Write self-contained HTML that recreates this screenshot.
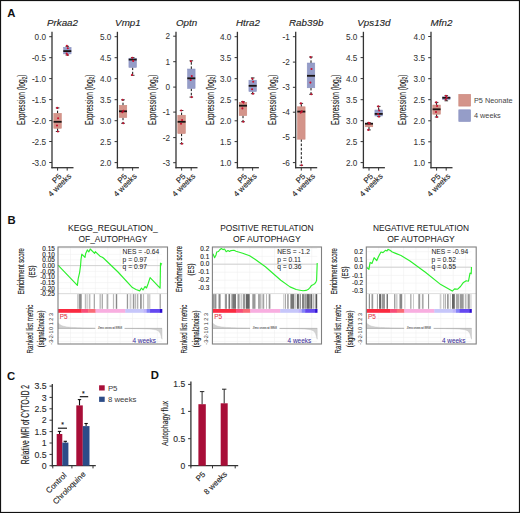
<!DOCTYPE html>
<html><head><meta charset="utf-8"><style>
html,body{margin:0;padding:0;background:#fff;}
body{width:520px;height:513px;overflow:hidden;}
svg{display:block;}
text{font-family:"Liberation Sans", sans-serif;}
</style></head><body>
<svg width="520" height="513" viewBox="0 0 520 513">
<rect x="0" y="0" width="520" height="513" fill="#fff"/>
<text x="62.5" y="26.1" font-size="9.8" fill="#222" stroke="#222" stroke-width="0.12" text-anchor="middle" font-style="italic">Prkaa2</text>
<line x1="52" y1="31.8" x2="52" y2="168.3" stroke="#333" stroke-width="1.3"/>
<line x1="51.4" y1="167.7" x2="73.5" y2="167.7" stroke="#333" stroke-width="1.3"/>
<line x1="49.2" y1="36.7" x2="52" y2="36.7" stroke="#333" stroke-width="1"/>
<text x="46.0" y="39.7" font-size="8.2" fill="#333" stroke="#333" stroke-width="0.04" text-anchor="end">0.0</text>
<line x1="49.2" y1="57.7" x2="52" y2="57.7" stroke="#333" stroke-width="1"/>
<text x="46.0" y="60.7" font-size="8.2" fill="#333" stroke="#333" stroke-width="0.04" text-anchor="end">-0.5</text>
<line x1="49.2" y1="78.6" x2="52" y2="78.6" stroke="#333" stroke-width="1"/>
<text x="46.0" y="81.6" font-size="8.2" fill="#333" stroke="#333" stroke-width="0.04" text-anchor="end">-1.0</text>
<line x1="49.2" y1="99.6" x2="52" y2="99.6" stroke="#333" stroke-width="1"/>
<text x="46.0" y="102.6" font-size="8.2" fill="#333" stroke="#333" stroke-width="0.04" text-anchor="end">-1.5</text>
<line x1="49.2" y1="120.6" x2="52" y2="120.6" stroke="#333" stroke-width="1"/>
<text x="46.0" y="123.6" font-size="8.2" fill="#333" stroke="#333" stroke-width="0.04" text-anchor="end">-2.0</text>
<line x1="49.2" y1="141.5" x2="52" y2="141.5" stroke="#333" stroke-width="1"/>
<text x="46.0" y="144.5" font-size="8.2" fill="#333" stroke="#333" stroke-width="0.04" text-anchor="end">-2.5</text>
<line x1="49.2" y1="162.5" x2="52" y2="162.5" stroke="#333" stroke-width="1"/>
<text x="46.0" y="165.5" font-size="8.2" fill="#333" stroke="#333" stroke-width="0.04" text-anchor="end">-3.0</text>
<line x1="57.6" y1="167.7" x2="57.6" y2="170.6" stroke="#333" stroke-width="1"/>
<line x1="67.2" y1="167.7" x2="67.2" y2="170.6" stroke="#333" stroke-width="1"/>
<text x="62.1" y="177.0" font-size="7.9" fill="#222" stroke="#222" stroke-width="0.12" text-anchor="end" transform="rotate(-45 62.1 177.0)">P5</text>
<text x="71.8" y="176.8" font-size="7.9" fill="#222" stroke="#222" stroke-width="0.12" text-anchor="end" transform="rotate(-45 71.8 176.8)">4 weeks</text>
<text transform="translate(24.8 125) rotate(-90)" font-size="10.4" fill="#222" stroke="#222" stroke-width="0.12" textLength="50.5" lengthAdjust="spacingAndGlyphs">Expression (log<tspan font-size="7.2" dy="1.7">2</tspan><tspan dy="-1.7">)</tspan></text>
<line x1="57.6" y1="113.3" x2="57.6" y2="107.9" stroke="#111" stroke-width="1.0" stroke-dasharray="2.6 1.7"/>
<line x1="57.6" y1="128.3" x2="57.6" y2="131.5" stroke="#111" stroke-width="1.0" stroke-dasharray="2.6 1.7"/>
<line x1="55.800000000000004" y1="107.9" x2="59.4" y2="107.9" stroke="#222" stroke-width="0.9"/>
<line x1="55.800000000000004" y1="131.5" x2="59.4" y2="131.5" stroke="#222" stroke-width="0.9"/>
<rect x="53.800000000000004" y="113.3" width="7.6" height="15.000000000000014" fill="#d4948a" stroke="#c98478" stroke-width="0.5"/>
<line x1="53.6" y1="121.8" x2="61.60000000000001" y2="121.8" stroke="#1a1414" stroke-width="1.8"/>
<circle cx="57.2" cy="107.9" r="1.05" fill="#c8102e"/>
<circle cx="58.1" cy="118.2" r="1.05" fill="#c8102e"/>
<circle cx="57.0" cy="125.5" r="1.05" fill="#c8102e"/>
<circle cx="57.9" cy="131.5" r="1.05" fill="#c8102e"/>
<line x1="67.3" y1="47.3" x2="67.3" y2="46.3" stroke="#111" stroke-width="1.0" stroke-dasharray="2.6 1.7"/>
<line x1="67.3" y1="53.9" x2="67.3" y2="55.0" stroke="#111" stroke-width="1.0" stroke-dasharray="2.6 1.7"/>
<line x1="65.5" y1="46.3" x2="69.1" y2="46.3" stroke="#222" stroke-width="0.9"/>
<line x1="65.5" y1="55.0" x2="69.1" y2="55.0" stroke="#222" stroke-width="0.9"/>
<rect x="63.5" y="47.3" width="7.6" height="6.600000000000001" fill="#959dc8" stroke="#8890c0" stroke-width="0.5"/>
<line x1="63.3" y1="51.1" x2="71.3" y2="51.1" stroke="#1a1414" stroke-width="1.8"/>
<circle cx="66.9" cy="45.8" r="1.05" fill="#c8102e"/>
<circle cx="67.8" cy="48.2" r="1.05" fill="#c8102e"/>
<circle cx="66.7" cy="53.6" r="1.05" fill="#c8102e"/>
<circle cx="67.6" cy="55.0" r="1.05" fill="#c8102e"/>
<text x="127.9" y="26.1" font-size="9.8" fill="#222" stroke="#222" stroke-width="0.12" text-anchor="middle" font-style="italic">Vmp1</text>
<line x1="117.4" y1="31.8" x2="117.4" y2="168.3" stroke="#333" stroke-width="1.3"/>
<line x1="116.80000000000001" y1="167.7" x2="138.9" y2="167.7" stroke="#333" stroke-width="1.3"/>
<line x1="114.60000000000001" y1="36.7" x2="117.4" y2="36.7" stroke="#333" stroke-width="1"/>
<text x="111.4" y="39.7" font-size="8.2" fill="#333" stroke="#333" stroke-width="0.04" text-anchor="end">5.0</text>
<line x1="114.60000000000001" y1="57.7" x2="117.4" y2="57.7" stroke="#333" stroke-width="1"/>
<text x="111.4" y="60.7" font-size="8.2" fill="#333" stroke="#333" stroke-width="0.04" text-anchor="end">4.5</text>
<line x1="114.60000000000001" y1="78.7" x2="117.4" y2="78.7" stroke="#333" stroke-width="1"/>
<text x="111.4" y="81.7" font-size="8.2" fill="#333" stroke="#333" stroke-width="0.04" text-anchor="end">4.0</text>
<line x1="114.60000000000001" y1="99.7" x2="117.4" y2="99.7" stroke="#333" stroke-width="1"/>
<text x="111.4" y="102.7" font-size="8.2" fill="#333" stroke="#333" stroke-width="0.04" text-anchor="end">3.5</text>
<line x1="114.60000000000001" y1="120.7" x2="117.4" y2="120.7" stroke="#333" stroke-width="1"/>
<text x="111.4" y="123.7" font-size="8.2" fill="#333" stroke="#333" stroke-width="0.04" text-anchor="end">3.0</text>
<line x1="114.60000000000001" y1="141.6" x2="117.4" y2="141.6" stroke="#333" stroke-width="1"/>
<text x="111.4" y="144.6" font-size="8.2" fill="#333" stroke="#333" stroke-width="0.04" text-anchor="end">2.5</text>
<line x1="114.60000000000001" y1="162.6" x2="117.4" y2="162.6" stroke="#333" stroke-width="1"/>
<text x="111.4" y="165.6" font-size="8.2" fill="#333" stroke="#333" stroke-width="0.04" text-anchor="end">2.0</text>
<line x1="123.0" y1="167.7" x2="123.0" y2="170.6" stroke="#333" stroke-width="1"/>
<line x1="132.6" y1="167.7" x2="132.6" y2="170.6" stroke="#333" stroke-width="1"/>
<text x="127.5" y="177.0" font-size="7.9" fill="#222" stroke="#222" stroke-width="0.12" text-anchor="end" transform="rotate(-45 127.5 177.0)">P5</text>
<text x="137.20000000000002" y="176.8" font-size="7.9" fill="#222" stroke="#222" stroke-width="0.12" text-anchor="end" transform="rotate(-45 137.20000000000002 176.8)">4 weeks</text>
<text transform="translate(92.5 125) rotate(-90)" font-size="10.4" fill="#222" stroke="#222" stroke-width="0.12" textLength="50.5" lengthAdjust="spacingAndGlyphs">Expression (log<tspan font-size="7.2" dy="1.7">2</tspan><tspan dy="-1.7">)</tspan></text>
<line x1="123.0" y1="105.3" x2="123.0" y2="99.8" stroke="#111" stroke-width="1.0" stroke-dasharray="2.6 1.7"/>
<line x1="123.0" y1="117.6" x2="123.0" y2="123.3" stroke="#111" stroke-width="1.0" stroke-dasharray="2.6 1.7"/>
<line x1="121.2" y1="99.8" x2="124.8" y2="99.8" stroke="#222" stroke-width="0.9"/>
<line x1="121.2" y1="123.3" x2="124.8" y2="123.3" stroke="#222" stroke-width="0.9"/>
<rect x="119.2" y="105.3" width="7.6" height="12.299999999999997" fill="#d4948a" stroke="#c98478" stroke-width="0.5"/>
<line x1="119.0" y1="111.3" x2="127.0" y2="111.3" stroke="#1a1414" stroke-width="1.8"/>
<circle cx="122.6" cy="99.8" r="1.05" fill="#c8102e"/>
<circle cx="123.5" cy="110.8" r="1.05" fill="#c8102e"/>
<circle cx="122.4" cy="112.2" r="1.05" fill="#c8102e"/>
<circle cx="123.3" cy="123.3" r="1.05" fill="#c8102e"/>
<line x1="132.70000000000002" y1="58.2" x2="132.70000000000002" y2="57.6" stroke="#111" stroke-width="1.0" stroke-dasharray="2.6 1.7"/>
<line x1="132.70000000000002" y1="67.5" x2="132.70000000000002" y2="75.3" stroke="#111" stroke-width="1.0" stroke-dasharray="2.6 1.7"/>
<line x1="130.9" y1="57.6" x2="134.50000000000003" y2="57.6" stroke="#222" stroke-width="0.9"/>
<line x1="130.9" y1="75.3" x2="134.50000000000003" y2="75.3" stroke="#222" stroke-width="0.9"/>
<rect x="128.9" y="58.2" width="7.6" height="9.299999999999997" fill="#959dc8" stroke="#8890c0" stroke-width="0.5"/>
<line x1="128.70000000000002" y1="59.6" x2="136.7" y2="59.6" stroke="#1a1414" stroke-width="1.8"/>
<circle cx="132.3" cy="57.7" r="1.05" fill="#c8102e"/>
<circle cx="133.2" cy="60.9" r="1.05" fill="#c8102e"/>
<circle cx="132.1" cy="74.9" r="1.05" fill="#c8102e"/>
<text x="186.5" y="26.1" font-size="9.8" fill="#222" stroke="#222" stroke-width="0.12" text-anchor="middle" font-style="italic">Optn</text>
<line x1="176.0" y1="31.8" x2="176.0" y2="168.3" stroke="#333" stroke-width="1.3"/>
<line x1="175.4" y1="167.7" x2="197.5" y2="167.7" stroke="#333" stroke-width="1.3"/>
<line x1="173.2" y1="36.2" x2="176.0" y2="36.2" stroke="#333" stroke-width="1"/>
<text x="170.0" y="39.2" font-size="8.2" fill="#333" stroke="#333" stroke-width="0.04" text-anchor="end">2</text>
<line x1="173.2" y1="61.7" x2="176.0" y2="61.7" stroke="#333" stroke-width="1"/>
<text x="170.0" y="64.7" font-size="8.2" fill="#333" stroke="#333" stroke-width="0.04" text-anchor="end">1</text>
<line x1="173.2" y1="87.1" x2="176.0" y2="87.1" stroke="#333" stroke-width="1"/>
<text x="170.0" y="90.1" font-size="8.2" fill="#333" stroke="#333" stroke-width="0.04" text-anchor="end">0</text>
<line x1="173.2" y1="112.1" x2="176.0" y2="112.1" stroke="#333" stroke-width="1"/>
<text x="170.0" y="115.1" font-size="8.2" fill="#333" stroke="#333" stroke-width="0.04" text-anchor="end">-1</text>
<line x1="173.2" y1="137.6" x2="176.0" y2="137.6" stroke="#333" stroke-width="1"/>
<text x="170.0" y="140.6" font-size="8.2" fill="#333" stroke="#333" stroke-width="0.04" text-anchor="end">-2</text>
<line x1="173.2" y1="162.7" x2="176.0" y2="162.7" stroke="#333" stroke-width="1"/>
<text x="170.0" y="165.7" font-size="8.2" fill="#333" stroke="#333" stroke-width="0.04" text-anchor="end">-3</text>
<line x1="181.6" y1="167.7" x2="181.6" y2="170.6" stroke="#333" stroke-width="1"/>
<line x1="191.2" y1="167.7" x2="191.2" y2="170.6" stroke="#333" stroke-width="1"/>
<text x="186.1" y="177.0" font-size="7.9" fill="#222" stroke="#222" stroke-width="0.12" text-anchor="end" transform="rotate(-45 186.1 177.0)">P5</text>
<text x="195.8" y="176.8" font-size="7.9" fill="#222" stroke="#222" stroke-width="0.12" text-anchor="end" transform="rotate(-45 195.8 176.8)">4 weeks</text>
<text transform="translate(156.29999999999998 125) rotate(-90)" font-size="10.4" fill="#222" stroke="#222" stroke-width="0.12" textLength="50.5" lengthAdjust="spacingAndGlyphs">Expression (log<tspan font-size="7.2" dy="1.7">2</tspan><tspan dy="-1.7">)</tspan></text>
<line x1="181.6" y1="115.2" x2="181.6" y2="110.5" stroke="#111" stroke-width="1.0" stroke-dasharray="2.6 1.7"/>
<line x1="181.6" y1="133.6" x2="181.6" y2="143.7" stroke="#111" stroke-width="1.0" stroke-dasharray="2.6 1.7"/>
<line x1="179.79999999999998" y1="110.5" x2="183.4" y2="110.5" stroke="#222" stroke-width="0.9"/>
<line x1="179.79999999999998" y1="143.7" x2="183.4" y2="143.7" stroke="#222" stroke-width="0.9"/>
<rect x="177.79999999999998" y="115.2" width="7.6" height="18.39999999999999" fill="#d4948a" stroke="#c98478" stroke-width="0.5"/>
<line x1="177.6" y1="121.8" x2="185.59999999999997" y2="121.8" stroke="#1a1414" stroke-width="1.8"/>
<circle cx="181.2" cy="110.5" r="1.05" fill="#c8102e"/>
<circle cx="182.1" cy="120.1" r="1.05" fill="#c8102e"/>
<circle cx="181.0" cy="123.8" r="1.05" fill="#c8102e"/>
<circle cx="181.9" cy="143.7" r="1.05" fill="#c8102e"/>
<line x1="191.3" y1="69.0" x2="191.3" y2="60.8" stroke="#111" stroke-width="1.0" stroke-dasharray="2.6 1.7"/>
<line x1="191.3" y1="88.5" x2="191.3" y2="97.1" stroke="#111" stroke-width="1.0" stroke-dasharray="2.6 1.7"/>
<line x1="189.5" y1="60.8" x2="193.10000000000002" y2="60.8" stroke="#222" stroke-width="0.9"/>
<line x1="189.5" y1="97.1" x2="193.10000000000002" y2="97.1" stroke="#222" stroke-width="0.9"/>
<rect x="187.5" y="69.0" width="7.6" height="19.5" fill="#959dc8" stroke="#8890c0" stroke-width="0.5"/>
<line x1="187.3" y1="78.3" x2="195.29999999999998" y2="78.3" stroke="#1a1414" stroke-width="1.8"/>
<circle cx="190.9" cy="61.3" r="1.05" fill="#c8102e"/>
<circle cx="191.8" cy="76.1" r="1.05" fill="#c8102e"/>
<circle cx="190.7" cy="80.0" r="1.05" fill="#c8102e"/>
<circle cx="191.6" cy="97.1" r="1.05" fill="#c8102e"/>
<text x="247.9" y="26.1" font-size="9.8" fill="#222" stroke="#222" stroke-width="0.12" text-anchor="middle" font-style="italic">Htra2</text>
<line x1="237.4" y1="31.8" x2="237.4" y2="168.3" stroke="#333" stroke-width="1.3"/>
<line x1="236.8" y1="167.7" x2="258.9" y2="167.7" stroke="#333" stroke-width="1.3"/>
<line x1="234.6" y1="36.7" x2="237.4" y2="36.7" stroke="#333" stroke-width="1"/>
<text x="231.4" y="39.7" font-size="8.2" fill="#333" stroke="#333" stroke-width="0.04" text-anchor="end">4.0</text>
<line x1="234.6" y1="57.6" x2="237.4" y2="57.6" stroke="#333" stroke-width="1"/>
<text x="231.4" y="60.6" font-size="8.2" fill="#333" stroke="#333" stroke-width="0.04" text-anchor="end">3.5</text>
<line x1="234.6" y1="78.7" x2="237.4" y2="78.7" stroke="#333" stroke-width="1"/>
<text x="231.4" y="81.7" font-size="8.2" fill="#333" stroke="#333" stroke-width="0.04" text-anchor="end">3.0</text>
<line x1="234.6" y1="99.8" x2="237.4" y2="99.8" stroke="#333" stroke-width="1"/>
<text x="231.4" y="102.8" font-size="8.2" fill="#333" stroke="#333" stroke-width="0.04" text-anchor="end">2.5</text>
<line x1="234.6" y1="120.8" x2="237.4" y2="120.8" stroke="#333" stroke-width="1"/>
<text x="231.4" y="123.8" font-size="8.2" fill="#333" stroke="#333" stroke-width="0.04" text-anchor="end">2.0</text>
<line x1="234.6" y1="141.6" x2="237.4" y2="141.6" stroke="#333" stroke-width="1"/>
<text x="231.4" y="144.6" font-size="8.2" fill="#333" stroke="#333" stroke-width="0.04" text-anchor="end">1.5</text>
<line x1="234.6" y1="162.6" x2="237.4" y2="162.6" stroke="#333" stroke-width="1"/>
<text x="231.4" y="165.6" font-size="8.2" fill="#333" stroke="#333" stroke-width="0.04" text-anchor="end">1.0</text>
<line x1="243.0" y1="167.7" x2="243.0" y2="170.6" stroke="#333" stroke-width="1"/>
<line x1="252.6" y1="167.7" x2="252.6" y2="170.6" stroke="#333" stroke-width="1"/>
<text x="247.5" y="177.0" font-size="7.9" fill="#222" stroke="#222" stroke-width="0.12" text-anchor="end" transform="rotate(-45 247.5 177.0)">P5</text>
<text x="257.2" y="176.8" font-size="7.9" fill="#222" stroke="#222" stroke-width="0.12" text-anchor="end" transform="rotate(-45 257.2 176.8)">4 weeks</text>
<text transform="translate(213.5 125) rotate(-90)" font-size="10.4" fill="#222" stroke="#222" stroke-width="0.12" textLength="50.5" lengthAdjust="spacingAndGlyphs">Expression (log<tspan font-size="7.2" dy="1.7">2</tspan><tspan dy="-1.7">)</tspan></text>
<line x1="243.0" y1="102.3" x2="243.0" y2="101.6" stroke="#111" stroke-width="1.0" stroke-dasharray="2.6 1.7"/>
<line x1="243.0" y1="115.6" x2="243.0" y2="121.7" stroke="#111" stroke-width="1.0" stroke-dasharray="2.6 1.7"/>
<line x1="241.2" y1="101.6" x2="244.8" y2="101.6" stroke="#222" stroke-width="0.9"/>
<line x1="241.2" y1="121.7" x2="244.8" y2="121.7" stroke="#222" stroke-width="0.9"/>
<rect x="239.2" y="102.3" width="7.6" height="13.299999999999997" fill="#d4948a" stroke="#c98478" stroke-width="0.5"/>
<line x1="239.0" y1="105.7" x2="246.99999999999997" y2="105.7" stroke="#1a1414" stroke-width="1.8"/>
<circle cx="242.6" cy="101.8" r="1.05" fill="#c8102e"/>
<circle cx="243.5" cy="102.6" r="1.05" fill="#c8102e"/>
<circle cx="242.4" cy="108.4" r="1.05" fill="#c8102e"/>
<circle cx="243.3" cy="121.7" r="1.05" fill="#c8102e"/>
<line x1="252.70000000000002" y1="80.2" x2="252.70000000000002" y2="77.9" stroke="#111" stroke-width="1.0" stroke-dasharray="2.6 1.7"/>
<line x1="252.70000000000002" y1="91.6" x2="252.70000000000002" y2="93.7" stroke="#111" stroke-width="1.0" stroke-dasharray="2.6 1.7"/>
<line x1="250.9" y1="77.9" x2="254.50000000000003" y2="77.9" stroke="#222" stroke-width="0.9"/>
<line x1="250.9" y1="93.7" x2="254.50000000000003" y2="93.7" stroke="#222" stroke-width="0.9"/>
<rect x="248.9" y="80.2" width="7.6" height="11.399999999999991" fill="#959dc8" stroke="#8890c0" stroke-width="0.5"/>
<line x1="248.70000000000002" y1="85.8" x2="256.7" y2="85.8" stroke="#1a1414" stroke-width="1.8"/>
<circle cx="252.3" cy="78.8" r="1.05" fill="#c8102e"/>
<circle cx="253.2" cy="81.8" r="1.05" fill="#c8102e"/>
<circle cx="252.1" cy="89.3" r="1.05" fill="#c8102e"/>
<circle cx="253.0" cy="93.7" r="1.05" fill="#c8102e"/>
<text x="306.2" y="26.1" font-size="9.8" fill="#222" stroke="#222" stroke-width="0.12" text-anchor="middle" font-style="italic">Rab39b</text>
<line x1="295.7" y1="31.8" x2="295.7" y2="168.3" stroke="#333" stroke-width="1.3"/>
<line x1="295.09999999999997" y1="167.7" x2="317.2" y2="167.7" stroke="#333" stroke-width="1.3"/>
<line x1="292.9" y1="36.7" x2="295.7" y2="36.7" stroke="#333" stroke-width="1"/>
<text x="289.7" y="39.7" font-size="8.2" fill="#333" stroke="#333" stroke-width="0.04" text-anchor="end">-1</text>
<line x1="292.9" y1="62.1" x2="295.7" y2="62.1" stroke="#333" stroke-width="1"/>
<text x="289.7" y="65.1" font-size="8.2" fill="#333" stroke="#333" stroke-width="0.04" text-anchor="end">-2</text>
<line x1="292.9" y1="87.3" x2="295.7" y2="87.3" stroke="#333" stroke-width="1"/>
<text x="289.7" y="90.3" font-size="8.2" fill="#333" stroke="#333" stroke-width="0.04" text-anchor="end">-3</text>
<line x1="292.9" y1="112.2" x2="295.7" y2="112.2" stroke="#333" stroke-width="1"/>
<text x="289.7" y="115.2" font-size="8.2" fill="#333" stroke="#333" stroke-width="0.04" text-anchor="end">-4</text>
<line x1="292.9" y1="137.4" x2="295.7" y2="137.4" stroke="#333" stroke-width="1"/>
<text x="289.7" y="140.4" font-size="8.2" fill="#333" stroke="#333" stroke-width="0.04" text-anchor="end">-5</text>
<line x1="292.9" y1="162.6" x2="295.7" y2="162.6" stroke="#333" stroke-width="1"/>
<text x="289.7" y="165.6" font-size="8.2" fill="#333" stroke="#333" stroke-width="0.04" text-anchor="end">-6</text>
<line x1="301.3" y1="167.7" x2="301.3" y2="170.6" stroke="#333" stroke-width="1"/>
<line x1="310.9" y1="167.7" x2="310.9" y2="170.6" stroke="#333" stroke-width="1"/>
<text x="305.8" y="177.0" font-size="7.9" fill="#222" stroke="#222" stroke-width="0.12" text-anchor="end" transform="rotate(-45 305.8 177.0)">P5</text>
<text x="315.5" y="176.8" font-size="7.9" fill="#222" stroke="#222" stroke-width="0.12" text-anchor="end" transform="rotate(-45 315.5 176.8)">4 weeks</text>
<text transform="translate(275.8 125) rotate(-90)" font-size="10.4" fill="#222" stroke="#222" stroke-width="0.12" textLength="50.5" lengthAdjust="spacingAndGlyphs">Expression (log<tspan font-size="7.2" dy="1.7">2</tspan><tspan dy="-1.7">)</tspan></text>
<line x1="301.3" y1="106.8" x2="301.3" y2="103.4" stroke="#111" stroke-width="1.0" stroke-dasharray="2.6 1.7"/>
<line x1="301.3" y1="139.2" x2="301.3" y2="165.3" stroke="#111" stroke-width="1.0" stroke-dasharray="2.6 1.7"/>
<line x1="299.5" y1="103.4" x2="303.1" y2="103.4" stroke="#222" stroke-width="0.9"/>
<line x1="299.5" y1="165.3" x2="303.1" y2="165.3" stroke="#222" stroke-width="0.9"/>
<rect x="297.5" y="106.8" width="7.6" height="32.39999999999999" fill="#d4948a" stroke="#c98478" stroke-width="0.5"/>
<line x1="297.3" y1="111.6" x2="305.3" y2="111.6" stroke="#1a1414" stroke-width="1.8"/>
<circle cx="300.9" cy="103.4" r="1.05" fill="#c8102e"/>
<circle cx="301.8" cy="111.4" r="1.05" fill="#c8102e"/>
<circle cx="300.7" cy="112.6" r="1.05" fill="#c8102e"/>
<circle cx="301.6" cy="165.3" r="1.05" fill="#c8102e"/>
<line x1="311.0" y1="63.0" x2="311.0" y2="57.0" stroke="#111" stroke-width="1.0" stroke-dasharray="2.6 1.7"/>
<line x1="311.0" y1="87.8" x2="311.0" y2="94.3" stroke="#111" stroke-width="1.0" stroke-dasharray="2.6 1.7"/>
<line x1="309.2" y1="57.0" x2="312.8" y2="57.0" stroke="#222" stroke-width="0.9"/>
<line x1="309.2" y1="94.3" x2="312.8" y2="94.3" stroke="#222" stroke-width="0.9"/>
<rect x="307.2" y="63.0" width="7.6" height="24.799999999999997" fill="#959dc8" stroke="#8890c0" stroke-width="0.5"/>
<line x1="307.0" y1="75.8" x2="315.0" y2="75.8" stroke="#1a1414" stroke-width="1.8"/>
<circle cx="310.6" cy="57.0" r="1.05" fill="#c8102e"/>
<circle cx="311.5" cy="69.0" r="1.05" fill="#c8102e"/>
<circle cx="310.4" cy="82.6" r="1.05" fill="#c8102e"/>
<circle cx="311.3" cy="94.3" r="1.05" fill="#c8102e"/>
<text x="373.9" y="26.1" font-size="9.8" fill="#222" stroke="#222" stroke-width="0.12" text-anchor="middle" font-style="italic">Vps13d</text>
<line x1="363.4" y1="31.8" x2="363.4" y2="168.3" stroke="#333" stroke-width="1.3"/>
<line x1="362.79999999999995" y1="167.7" x2="384.9" y2="167.7" stroke="#333" stroke-width="1.3"/>
<line x1="360.59999999999997" y1="36.7" x2="363.4" y2="36.7" stroke="#333" stroke-width="1"/>
<text x="357.4" y="39.7" font-size="8.2" fill="#333" stroke="#333" stroke-width="0.04" text-anchor="end">5.0</text>
<line x1="360.59999999999997" y1="57.6" x2="363.4" y2="57.6" stroke="#333" stroke-width="1"/>
<text x="357.4" y="60.6" font-size="8.2" fill="#333" stroke="#333" stroke-width="0.04" text-anchor="end">4.5</text>
<line x1="360.59999999999997" y1="78.6" x2="363.4" y2="78.6" stroke="#333" stroke-width="1"/>
<text x="357.4" y="81.6" font-size="8.2" fill="#333" stroke="#333" stroke-width="0.04" text-anchor="end">4.0</text>
<line x1="360.59999999999997" y1="99.7" x2="363.4" y2="99.7" stroke="#333" stroke-width="1"/>
<text x="357.4" y="102.7" font-size="8.2" fill="#333" stroke="#333" stroke-width="0.04" text-anchor="end">3.5</text>
<line x1="360.59999999999997" y1="120.7" x2="363.4" y2="120.7" stroke="#333" stroke-width="1"/>
<text x="357.4" y="123.7" font-size="8.2" fill="#333" stroke="#333" stroke-width="0.04" text-anchor="end">3.0</text>
<line x1="360.59999999999997" y1="141.6" x2="363.4" y2="141.6" stroke="#333" stroke-width="1"/>
<text x="357.4" y="144.6" font-size="8.2" fill="#333" stroke="#333" stroke-width="0.04" text-anchor="end">2.5</text>
<line x1="360.59999999999997" y1="162.6" x2="363.4" y2="162.6" stroke="#333" stroke-width="1"/>
<text x="357.4" y="165.6" font-size="8.2" fill="#333" stroke="#333" stroke-width="0.04" text-anchor="end">2.0</text>
<line x1="369.0" y1="167.7" x2="369.0" y2="170.6" stroke="#333" stroke-width="1"/>
<line x1="378.59999999999997" y1="167.7" x2="378.59999999999997" y2="170.6" stroke="#333" stroke-width="1"/>
<text x="373.5" y="177.0" font-size="7.9" fill="#222" stroke="#222" stroke-width="0.12" text-anchor="end" transform="rotate(-45 373.5 177.0)">P5</text>
<text x="383.2" y="176.8" font-size="7.9" fill="#222" stroke="#222" stroke-width="0.12" text-anchor="end" transform="rotate(-45 383.2 176.8)">4 weeks</text>
<text transform="translate(339.40000000000003 125) rotate(-90)" font-size="10.4" fill="#222" stroke="#222" stroke-width="0.12" textLength="50.5" lengthAdjust="spacingAndGlyphs">Expression (log<tspan font-size="7.2" dy="1.7">2</tspan><tspan dy="-1.7">)</tspan></text>
<line x1="369.0" y1="123.3" x2="369.0" y2="122.7" stroke="#111" stroke-width="1.0" stroke-dasharray="2.6 1.7"/>
<line x1="369.0" y1="126.8" x2="369.0" y2="129.9" stroke="#111" stroke-width="1.0" stroke-dasharray="2.6 1.7"/>
<line x1="367.2" y1="122.7" x2="370.8" y2="122.7" stroke="#222" stroke-width="0.9"/>
<line x1="367.2" y1="129.9" x2="370.8" y2="129.9" stroke="#222" stroke-width="0.9"/>
<rect x="365.2" y="123.3" width="7.6" height="3.5" fill="#d4948a" stroke="#c98478" stroke-width="0.5"/>
<line x1="365.0" y1="123.7" x2="373.0" y2="123.7" stroke="#1a1414" stroke-width="1.8"/>
<circle cx="368.6" cy="122.8" r="1.05" fill="#c8102e"/>
<circle cx="369.5" cy="123.6" r="1.05" fill="#c8102e"/>
<circle cx="368.4" cy="129.9" r="1.05" fill="#c8102e"/>
<line x1="378.7" y1="110.0" x2="378.7" y2="106.4" stroke="#111" stroke-width="1.0" stroke-dasharray="2.6 1.7"/>
<line x1="378.7" y1="116.0" x2="378.7" y2="116.6" stroke="#111" stroke-width="1.0" stroke-dasharray="2.6 1.7"/>
<line x1="376.9" y1="106.4" x2="380.5" y2="106.4" stroke="#222" stroke-width="0.9"/>
<line x1="376.9" y1="116.6" x2="380.5" y2="116.6" stroke="#222" stroke-width="0.9"/>
<rect x="374.9" y="110.0" width="7.6" height="6.0" fill="#959dc8" stroke="#8890c0" stroke-width="0.5"/>
<line x1="374.7" y1="113.9" x2="382.7" y2="113.9" stroke="#1a1414" stroke-width="1.8"/>
<circle cx="378.3" cy="106.4" r="1.05" fill="#c8102e"/>
<circle cx="379.2" cy="110.5" r="1.05" fill="#c8102e"/>
<circle cx="378.1" cy="114.0" r="1.05" fill="#c8102e"/>
<circle cx="379.0" cy="116.6" r="1.05" fill="#c8102e"/>
<text x="441.5" y="26.1" font-size="9.8" fill="#222" stroke="#222" stroke-width="0.12" text-anchor="middle" font-style="italic">Mfn2</text>
<line x1="431.0" y1="31.8" x2="431.0" y2="168.3" stroke="#333" stroke-width="1.3"/>
<line x1="430.4" y1="167.7" x2="452.5" y2="167.7" stroke="#333" stroke-width="1.3"/>
<line x1="428.2" y1="36.5" x2="431.0" y2="36.5" stroke="#333" stroke-width="1"/>
<text x="425.0" y="39.5" font-size="8.2" fill="#333" stroke="#333" stroke-width="0.04" text-anchor="end">4.0</text>
<line x1="428.2" y1="57.7" x2="431.0" y2="57.7" stroke="#333" stroke-width="1"/>
<text x="425.0" y="60.7" font-size="8.2" fill="#333" stroke="#333" stroke-width="0.04" text-anchor="end">3.5</text>
<line x1="428.2" y1="78.7" x2="431.0" y2="78.7" stroke="#333" stroke-width="1"/>
<text x="425.0" y="81.7" font-size="8.2" fill="#333" stroke="#333" stroke-width="0.04" text-anchor="end">3.0</text>
<line x1="428.2" y1="99.7" x2="431.0" y2="99.7" stroke="#333" stroke-width="1"/>
<text x="425.0" y="102.7" font-size="8.2" fill="#333" stroke="#333" stroke-width="0.04" text-anchor="end">2.5</text>
<line x1="428.2" y1="120.8" x2="431.0" y2="120.8" stroke="#333" stroke-width="1"/>
<text x="425.0" y="123.8" font-size="8.2" fill="#333" stroke="#333" stroke-width="0.04" text-anchor="end">2.0</text>
<line x1="428.2" y1="141.8" x2="431.0" y2="141.8" stroke="#333" stroke-width="1"/>
<text x="425.0" y="144.8" font-size="8.2" fill="#333" stroke="#333" stroke-width="0.04" text-anchor="end">1.5</text>
<line x1="428.2" y1="162.7" x2="431.0" y2="162.7" stroke="#333" stroke-width="1"/>
<text x="425.0" y="165.7" font-size="8.2" fill="#333" stroke="#333" stroke-width="0.04" text-anchor="end">1.0</text>
<line x1="436.6" y1="167.7" x2="436.6" y2="170.6" stroke="#333" stroke-width="1"/>
<line x1="446.2" y1="167.7" x2="446.2" y2="170.6" stroke="#333" stroke-width="1"/>
<text x="441.1" y="177.0" font-size="7.9" fill="#222" stroke="#222" stroke-width="0.12" text-anchor="end" transform="rotate(-45 441.1 177.0)">P5</text>
<text x="450.8" y="176.8" font-size="7.9" fill="#222" stroke="#222" stroke-width="0.12" text-anchor="end" transform="rotate(-45 450.8 176.8)">4 weeks</text>
<text transform="translate(405.6 125) rotate(-90)" font-size="10.4" fill="#222" stroke="#222" stroke-width="0.12" textLength="50.5" lengthAdjust="spacingAndGlyphs">Expression (log<tspan font-size="7.2" dy="1.7">2</tspan><tspan dy="-1.7">)</tspan></text>
<line x1="436.6" y1="105.0" x2="436.6" y2="102.4" stroke="#111" stroke-width="1.0" stroke-dasharray="2.6 1.7"/>
<line x1="436.6" y1="114.2" x2="436.6" y2="117.0" stroke="#111" stroke-width="1.0" stroke-dasharray="2.6 1.7"/>
<line x1="434.8" y1="102.4" x2="438.40000000000003" y2="102.4" stroke="#222" stroke-width="0.9"/>
<line x1="434.8" y1="117.0" x2="438.40000000000003" y2="117.0" stroke="#222" stroke-width="0.9"/>
<rect x="432.8" y="105.0" width="7.6" height="9.200000000000003" fill="#d4948a" stroke="#c98478" stroke-width="0.5"/>
<line x1="432.6" y1="109.3" x2="440.6" y2="109.3" stroke="#1a1414" stroke-width="1.8"/>
<circle cx="436.2" cy="102.4" r="1.05" fill="#c8102e"/>
<circle cx="437.1" cy="106.0" r="1.05" fill="#c8102e"/>
<circle cx="436.0" cy="112.0" r="1.05" fill="#c8102e"/>
<circle cx="436.9" cy="117.0" r="1.05" fill="#c8102e"/>
<line x1="446.3" y1="96.9" x2="446.3" y2="95.7" stroke="#111" stroke-width="1.0" stroke-dasharray="2.6 1.7"/>
<line x1="446.3" y1="99.6" x2="446.3" y2="100.8" stroke="#111" stroke-width="1.0" stroke-dasharray="2.6 1.7"/>
<line x1="444.5" y1="95.7" x2="448.1" y2="95.7" stroke="#222" stroke-width="0.9"/>
<line x1="444.5" y1="100.8" x2="448.1" y2="100.8" stroke="#222" stroke-width="0.9"/>
<rect x="442.5" y="96.9" width="7.6" height="2.6999999999999886" fill="#959dc8" stroke="#8890c0" stroke-width="0.5"/>
<line x1="442.3" y1="97.8" x2="450.3" y2="97.8" stroke="#1a1414" stroke-width="1.8"/>
<circle cx="445.9" cy="95.7" r="1.05" fill="#c8102e"/>
<circle cx="446.8" cy="97.5" r="1.05" fill="#c8102e"/>
<circle cx="445.7" cy="99.5" r="1.05" fill="#c8102e"/>
<rect x="458.8" y="94.4" width="11.8" height="11.7" fill="#d4948a" stroke="#c98478" stroke-width="0.6"/>
<rect x="458.8" y="109.8" width="11.8" height="11.7" fill="#959dc8" stroke="#8890c0" stroke-width="0.6"/>
<text x="474" y="102.9" font-size="7.3" fill="#444">P5 Neonate</text>
<text x="474" y="118.2" font-size="7.3" fill="#444">4 weeks</text>
<text x="7.3" y="17.4" font-size="11.3" fill="#111" font-weight="bold">A</text>
<text x="7.4" y="224.3" font-size="11.3" fill="#111" font-weight="bold">B</text>
<text x="7.0" y="379.5" font-size="11.3" fill="#111" font-weight="bold">C</text>
<text x="150.8" y="378.7" font-size="11.3" fill="#111" font-weight="bold">D</text>
<text x="112.9" y="231.4" font-size="9.8" fill="#222" stroke="#222" stroke-width="0.04" text-anchor="middle" textLength="89.7" lengthAdjust="spacingAndGlyphs">KEGG_REGULATION_</text>
<text x="112.9" y="241.7" font-size="9.8" fill="#222" stroke="#222" stroke-width="0.04" text-anchor="middle" textLength="68.7" lengthAdjust="spacingAndGlyphs">OF_AUTOPHAGY</text>
<rect x="58.0" y="247.0" width="109.5" height="97.0" fill="#fff"/>
<line x1="70.5" y1="247.0" x2="70.5" y2="293.6" stroke="#f0f0f0" stroke-width="0.6"/>
<line x1="70.5" y1="312.8" x2="70.5" y2="344.0" stroke="#f0f0f0" stroke-width="0.6"/>
<line x1="82.9" y1="247.0" x2="82.9" y2="293.6" stroke="#f0f0f0" stroke-width="0.6"/>
<line x1="82.9" y1="312.8" x2="82.9" y2="344.0" stroke="#f0f0f0" stroke-width="0.6"/>
<line x1="95.30000000000001" y1="247.0" x2="95.30000000000001" y2="293.6" stroke="#f0f0f0" stroke-width="0.6"/>
<line x1="95.30000000000001" y1="312.8" x2="95.30000000000001" y2="344.0" stroke="#f0f0f0" stroke-width="0.6"/>
<line x1="107.70000000000002" y1="247.0" x2="107.70000000000002" y2="293.6" stroke="#f0f0f0" stroke-width="0.6"/>
<line x1="107.70000000000002" y1="312.8" x2="107.70000000000002" y2="344.0" stroke="#f0f0f0" stroke-width="0.6"/>
<line x1="120.10000000000002" y1="247.0" x2="120.10000000000002" y2="293.6" stroke="#f0f0f0" stroke-width="0.6"/>
<line x1="120.10000000000002" y1="312.8" x2="120.10000000000002" y2="344.0" stroke="#f0f0f0" stroke-width="0.6"/>
<line x1="132.50000000000003" y1="247.0" x2="132.50000000000003" y2="293.6" stroke="#f0f0f0" stroke-width="0.6"/>
<line x1="132.50000000000003" y1="312.8" x2="132.50000000000003" y2="344.0" stroke="#f0f0f0" stroke-width="0.6"/>
<line x1="144.90000000000003" y1="247.0" x2="144.90000000000003" y2="293.6" stroke="#f0f0f0" stroke-width="0.6"/>
<line x1="144.90000000000003" y1="312.8" x2="144.90000000000003" y2="344.0" stroke="#f0f0f0" stroke-width="0.6"/>
<line x1="157.30000000000004" y1="247.0" x2="157.30000000000004" y2="293.6" stroke="#f0f0f0" stroke-width="0.6"/>
<line x1="157.30000000000004" y1="312.8" x2="157.30000000000004" y2="344.0" stroke="#f0f0f0" stroke-width="0.6"/>
<line x1="58.0" y1="248.6" x2="162.0" y2="248.6" stroke="#f0f0f0" stroke-width="0.6"/>
<line x1="58.0" y1="254.3" x2="162.0" y2="254.3" stroke="#f0f0f0" stroke-width="0.6"/>
<line x1="58.0" y1="259.9" x2="162.0" y2="259.9" stroke="#f0f0f0" stroke-width="0.6"/>
<line x1="58.0" y1="265.6" x2="162.0" y2="265.6" stroke="#f0f0f0" stroke-width="0.6"/>
<line x1="58.0" y1="271.3" x2="162.0" y2="271.3" stroke="#f0f0f0" stroke-width="0.6"/>
<line x1="58.0" y1="276.9" x2="162.0" y2="276.9" stroke="#f0f0f0" stroke-width="0.6"/>
<line x1="58.0" y1="282.6" x2="162.0" y2="282.6" stroke="#f0f0f0" stroke-width="0.6"/>
<line x1="58.0" y1="288.3" x2="162.0" y2="288.3" stroke="#f0f0f0" stroke-width="0.6"/>
<line x1="58.0" y1="293.9" x2="162.0" y2="293.9" stroke="#f0f0f0" stroke-width="0.6"/>
<line x1="58.0" y1="318.6" x2="162.0" y2="318.6" stroke="#f0f0f0" stroke-width="0.6"/>
<line x1="58.0" y1="333.0" x2="162.0" y2="333.0" stroke="#f0f0f0" stroke-width="0.6"/>
<line x1="58.0" y1="337.4" x2="162.0" y2="337.4" stroke="#f0f0f0" stroke-width="0.6"/>
<line x1="58.0" y1="341.4" x2="162.0" y2="341.4" stroke="#f0f0f0" stroke-width="0.6"/>
<line x1="58.0" y1="265.6" x2="162.0" y2="265.6" stroke="#c8c8c8" stroke-width="0.8"/>
<line x1="58.0" y1="293.6" x2="167.5" y2="293.6" stroke="#d0d0d0" stroke-width="0.7"/>
<rect x="77.0" y="294.1" width="1.5999999999999943" height="14.699999999999989" fill="#ccc"/>
<rect x="78.8" y="294.1" width="3.0" height="14.699999999999989" fill="#999"/>
<rect x="79.6" y="294.1" width="1.2000000000000028" height="14.699999999999989" fill="#888"/>
<rect x="84.8" y="294.1" width="1.4000000000000057" height="14.699999999999989" fill="#bbb"/>
<rect x="86.6" y="294.1" width="1.2000000000000028" height="14.699999999999989" fill="#ccc"/>
<rect x="88.8" y="294.1" width="1.6000000000000085" height="14.699999999999989" fill="#bbb"/>
<rect x="93.7" y="294.1" width="1.2999999999999972" height="14.699999999999989" fill="#aaa"/>
<rect x="99.6" y="294.1" width="1.1000000000000085" height="14.699999999999989" fill="#aaa"/>
<rect x="101.7" y="294.1" width="1.0999999999999943" height="14.699999999999989" fill="#999"/>
<rect x="106.6" y="294.1" width="1.1000000000000085" height="14.699999999999989" fill="#aaa"/>
<rect x="107.2" y="294.1" width="1.0999999999999943" height="14.699999999999989" fill="#aaa"/>
<rect x="112.9" y="294.1" width="1.1999999999999886" height="14.699999999999989" fill="#bbb"/>
<rect x="115.8" y="294.1" width="1.4000000000000057" height="14.699999999999989" fill="#888"/>
<rect x="126.8" y="294.1" width="1.2999999999999972" height="14.699999999999989" fill="#999"/>
<rect x="129.6" y="294.1" width="1.8000000000000114" height="14.699999999999989" fill="#ccc"/>
<rect x="132.8" y="294.1" width="1.5" height="14.699999999999989" fill="#999"/>
<rect x="134.8" y="294.1" width="1.3999999999999773" height="14.699999999999989" fill="#bbb"/>
<rect x="137.1" y="294.1" width="1.200000000000017" height="14.699999999999989" fill="#aaa"/>
<rect x="140.0" y="294.1" width="1.8000000000000114" height="14.699999999999989" fill="#999"/>
<rect x="142.9" y="294.1" width="1.1999999999999886" height="14.699999999999989" fill="#bbb"/>
<rect x="147.0" y="294.1" width="3.4000000000000057" height="14.699999999999989" fill="#ccc"/>
<rect x="159.6" y="294.1" width="1.200000000000017" height="14.699999999999989" fill="#999"/>
<rect x="58.0" y="309.0" width="23.804000000000002" height="3.8000000000000114" fill="#fa2a40"/>
<rect x="81.504" y="309.0" width="6.955999999999997" height="3.8000000000000114" fill="#f84c78"/>
<rect x="88.16" y="309.0" width="7.684" height="3.8000000000000114" fill="#fa6a76"/>
<rect x="95.544" y="309.0" width="30.044000000000004" height="3.8000000000000114" fill="#f8aee0"/>
<rect x="125.288" y="309.0" width="18.291999999999994" height="3.8000000000000114" fill="#c6c6fa"/>
<rect x="143.28" y="309.0" width="3.732000000000003" height="3.8000000000000114" fill="#beb4fa"/>
<rect x="146.712" y="309.0" width="3.628000000000003" height="3.8000000000000114" fill="#8482f8"/>
<rect x="150.04000000000002" y="309.0" width="10.179999999999998" height="3.8000000000000114" fill="#6448f0"/>
<rect x="159.92000000000002" y="309.0" width="2.3800000000000017" height="3.8000000000000114" fill="#2c0cd0"/>
<path d="M58.0,328.4 L58.00,322.70 L59.73,324.45 L61.47,325.50 L63.20,326.16 L64.93,326.59 L66.67,326.89 L68.40,327.11 L70.13,327.27 L71.87,327.41 L73.60,327.52 L75.33,327.61 L77.07,327.69 L78.80,327.77 L80.53,327.83 L82.27,327.89 L84.00,327.94 L85.73,327.99 L87.47,328.03 L89.20,328.07 L90.93,328.10 L92.67,328.13 L94.40,328.16 L96.13,328.19 L97.87,328.21 L99.60,328.23 L101.33,328.26 L103.07,328.27 L104.80,328.29 L106.53,328.31 L108.27,328.32 L110.00,328.34 L111.73,328.41 L113.47,328.42 L115.20,328.43 L116.93,328.44 L118.67,328.45 L120.40,328.47 L122.13,328.48 L123.87,328.49 L125.60,328.50 L127.33,328.52 L129.07,328.53 L130.80,328.55 L132.53,328.57 L134.27,328.59 L136.00,328.62 L137.73,328.65 L139.47,328.68 L141.20,328.72 L142.93,328.77 L144.67,328.83 L146.40,328.90 L148.13,328.99 L149.87,329.10 L151.60,329.24 L153.33,329.43 L155.07,329.69 L156.80,330.13 L158.53,331.00 L160.27,333.15 L162.00,339.23 L162.0,328.4 Z" fill="#d2d2d2" stroke="#bdbdbd" stroke-width="0.4"/>
<line x1="58.0" y1="328.4" x2="162.0" y2="328.4" stroke="#9a9a9a" stroke-width="0.5"/>
<rect x="95.44" y="326.79999999999995" width="29.120000000000005" height="3.2" fill="#fff"/>
<text x="110.0" y="329.4" font-size="2.9" fill="#666" stroke="#666" stroke-width="0.12" text-anchor="middle">Zero cross at 8958</text>
<text x="59.8" y="318.8" font-size="6.4" fill="#e0303c" stroke="#e0303c" stroke-width="0.05">P5</text>
<text x="156.0" y="342.8" font-size="6.45" fill="#3a2f9a" stroke="#3a2f9a" stroke-width="0.05" text-anchor="end">4 weeks</text>
<path d="M58.00,265.20 L77.40,285.40 L78.20,278.60 L79.60,272.60 L80.60,265.00 L81.00,259.60 L81.80,254.20 L85.00,257.40 L85.60,253.80 L87.30,249.90 L88.80,252.00 L90.20,249.00 L94.60,253.40 L95.30,251.60 L100.00,256.20 L102.30,257.20 L103.40,258.00 L118.00,272.00 L132.40,287.60 L136.00,289.50 L139.70,290.90 L141.50,288.00 L143.00,290.00 L145.00,286.50 L146.50,288.00 L148.00,284.00 L150.10,277.60 L160.10,288.20 L160.50,263.20 L162.00,264.20" fill="none" stroke="#2cf02c" stroke-width="1.15" stroke-linejoin="round"/>
<text x="122.6" y="253.8" font-size="6.7" fill="#222" stroke="#222" stroke-width="0.03">NES = -0.64</text>
<text x="122.6" y="261.6" font-size="6.7" fill="#222" stroke="#222" stroke-width="0.03">p = 0.97</text>
<text x="122.6" y="269.4" font-size="6.7" fill="#222" stroke="#222" stroke-width="0.03">q = 0.97</text>
<rect x="58.0" y="247.0" width="109.5" height="97.0" fill="none" stroke="#808080" stroke-width="1.1"/>
<text x="54.8" y="250.79999999999998" font-size="6.4" fill="#222" stroke="#222" stroke-width="0.12" text-anchor="end">0.15</text>
<text x="54.8" y="256.5" font-size="6.4" fill="#222" stroke="#222" stroke-width="0.12" text-anchor="end">0.10</text>
<text x="54.8" y="262.09999999999997" font-size="6.4" fill="#222" stroke="#222" stroke-width="0.12" text-anchor="end">0.05</text>
<text x="54.8" y="267.8" font-size="6.4" fill="#222" stroke="#222" stroke-width="0.12" text-anchor="end">0.00</text>
<text x="54.8" y="273.5" font-size="6.4" fill="#222" stroke="#222" stroke-width="0.12" text-anchor="end">-0.05</text>
<text x="54.8" y="279.09999999999997" font-size="6.4" fill="#222" stroke="#222" stroke-width="0.12" text-anchor="end">-0.10</text>
<text x="54.8" y="284.8" font-size="6.4" fill="#222" stroke="#222" stroke-width="0.12" text-anchor="end">-0.15</text>
<text x="54.8" y="290.5" font-size="6.4" fill="#222" stroke="#222" stroke-width="0.12" text-anchor="end">-0.20</text>
<text x="54.8" y="296.09999999999997" font-size="6.4" fill="#222" stroke="#222" stroke-width="0.12" text-anchor="end">-0.25</text>
<text transform="translate(53.4 314.54) rotate(-90)" font-size="5.4" fill="#333" text-anchor="middle">3</text>
<text transform="translate(53.4 319.16) rotate(-90)" font-size="5.4" fill="#333" text-anchor="middle">2</text>
<text transform="translate(53.4 323.78) rotate(-90)" font-size="5.4" fill="#333" text-anchor="middle">1</text>
<text transform="translate(53.4 328.40) rotate(-90)" font-size="5.4" fill="#333" text-anchor="middle">0</text>
<text transform="translate(53.4 333.02) rotate(-90)" font-size="5.4" fill="#333" text-anchor="middle">-1</text>
<text transform="translate(53.4 337.64) rotate(-90)" font-size="5.4" fill="#333" text-anchor="middle">-2</text>
<text transform="translate(53.4 342.26) rotate(-90)" font-size="5.4" fill="#333" text-anchor="middle">-3</text>
<text transform="translate(23.9 294.5) rotate(-90)" font-size="8.6" fill="#222" stroke="#222" stroke-width="0.15" textLength="46.3" lengthAdjust="spacingAndGlyphs">Enrichment score</text>
<text transform="translate(35.2 277.6) rotate(-90)" font-size="9.2" fill="#222" stroke="#222" stroke-width="0.15" textLength="12" lengthAdjust="spacingAndGlyphs">(ES)</text>
<text transform="translate(33.0 353.4) rotate(-90)" font-size="8.6" fill="#222" stroke="#222" stroke-width="0.12" textLength="48.8" lengthAdjust="spacingAndGlyphs">Ranked list metric</text>
<text transform="translate(44.2 347.2) rotate(-90)" font-size="8.6" fill="#222" stroke="#222" stroke-width="0.12" textLength="36.8" lengthAdjust="spacingAndGlyphs">(signal2noise)</text>
<text x="266.9" y="231.4" font-size="9.8" fill="#222" stroke="#222" stroke-width="0.04" text-anchor="middle" textLength="93.5" lengthAdjust="spacingAndGlyphs">POSITIVE RETULATION</text>
<text x="266.9" y="241.7" font-size="9.8" fill="#222" stroke="#222" stroke-width="0.04" text-anchor="middle" textLength="67.7" lengthAdjust="spacingAndGlyphs">OF AUTOPHAGY</text>
<rect x="212.4" y="247.0" width="109.1" height="97.0" fill="#fff"/>
<line x1="224.9" y1="247.0" x2="224.9" y2="293.6" stroke="#f0f0f0" stroke-width="0.6"/>
<line x1="224.9" y1="312.8" x2="224.9" y2="344.0" stroke="#f0f0f0" stroke-width="0.6"/>
<line x1="237.3" y1="247.0" x2="237.3" y2="293.6" stroke="#f0f0f0" stroke-width="0.6"/>
<line x1="237.3" y1="312.8" x2="237.3" y2="344.0" stroke="#f0f0f0" stroke-width="0.6"/>
<line x1="249.70000000000002" y1="247.0" x2="249.70000000000002" y2="293.6" stroke="#f0f0f0" stroke-width="0.6"/>
<line x1="249.70000000000002" y1="312.8" x2="249.70000000000002" y2="344.0" stroke="#f0f0f0" stroke-width="0.6"/>
<line x1="262.1" y1="247.0" x2="262.1" y2="293.6" stroke="#f0f0f0" stroke-width="0.6"/>
<line x1="262.1" y1="312.8" x2="262.1" y2="344.0" stroke="#f0f0f0" stroke-width="0.6"/>
<line x1="274.5" y1="247.0" x2="274.5" y2="293.6" stroke="#f0f0f0" stroke-width="0.6"/>
<line x1="274.5" y1="312.8" x2="274.5" y2="344.0" stroke="#f0f0f0" stroke-width="0.6"/>
<line x1="286.9" y1="247.0" x2="286.9" y2="293.6" stroke="#f0f0f0" stroke-width="0.6"/>
<line x1="286.9" y1="312.8" x2="286.9" y2="344.0" stroke="#f0f0f0" stroke-width="0.6"/>
<line x1="299.29999999999995" y1="247.0" x2="299.29999999999995" y2="293.6" stroke="#f0f0f0" stroke-width="0.6"/>
<line x1="299.29999999999995" y1="312.8" x2="299.29999999999995" y2="344.0" stroke="#f0f0f0" stroke-width="0.6"/>
<line x1="311.69999999999993" y1="247.0" x2="311.69999999999993" y2="293.6" stroke="#f0f0f0" stroke-width="0.6"/>
<line x1="311.69999999999993" y1="312.8" x2="311.69999999999993" y2="344.0" stroke="#f0f0f0" stroke-width="0.6"/>
<line x1="212.4" y1="248.5" x2="317.2" y2="248.5" stroke="#f0f0f0" stroke-width="0.6"/>
<line x1="212.4" y1="256.3" x2="317.2" y2="256.3" stroke="#f0f0f0" stroke-width="0.6"/>
<line x1="212.4" y1="264.2" x2="317.2" y2="264.2" stroke="#f0f0f0" stroke-width="0.6"/>
<line x1="212.4" y1="272.2" x2="317.2" y2="272.2" stroke="#f0f0f0" stroke-width="0.6"/>
<line x1="212.4" y1="280.2" x2="317.2" y2="280.2" stroke="#f0f0f0" stroke-width="0.6"/>
<line x1="212.4" y1="288.0" x2="317.2" y2="288.0" stroke="#f0f0f0" stroke-width="0.6"/>
<line x1="212.4" y1="318.6" x2="317.2" y2="318.6" stroke="#f0f0f0" stroke-width="0.6"/>
<line x1="212.4" y1="333.0" x2="317.2" y2="333.0" stroke="#f0f0f0" stroke-width="0.6"/>
<line x1="212.4" y1="337.4" x2="317.2" y2="337.4" stroke="#f0f0f0" stroke-width="0.6"/>
<line x1="212.4" y1="341.4" x2="317.2" y2="341.4" stroke="#f0f0f0" stroke-width="0.6"/>
<line x1="212.4" y1="264.2" x2="317.2" y2="264.2" stroke="#c8c8c8" stroke-width="0.8"/>
<line x1="212.4" y1="293.6" x2="321.5" y2="293.6" stroke="#d0d0d0" stroke-width="0.7"/>
<rect x="212.6" y="294.1" width="2.200000000000017" height="14.699999999999989" fill="#999"/>
<rect x="215.3" y="294.1" width="1.0" height="14.699999999999989" fill="#666"/>
<rect x="218.5" y="294.1" width="2.0999999999999943" height="14.699999999999989" fill="#888"/>
<rect x="224.8" y="294.1" width="2.1999999999999886" height="14.699999999999989" fill="#999"/>
<rect x="228.5" y="294.1" width="1.5" height="14.699999999999989" fill="#777"/>
<rect x="230.8" y="294.1" width="1.0" height="14.699999999999989" fill="#aaa"/>
<rect x="232.2" y="294.1" width="3.8000000000000114" height="14.699999999999989" fill="#777"/>
<rect x="237.5" y="294.1" width="2.0999999999999943" height="14.699999999999989" fill="#999"/>
<rect x="240.5" y="294.1" width="1.5" height="14.699999999999989" fill="#ccc"/>
<rect x="242.8" y="294.1" width="2.5999999999999943" height="14.699999999999989" fill="#999"/>
<rect x="246.0" y="294.1" width="3.6999999999999886" height="14.699999999999989" fill="#666"/>
<rect x="252.3" y="294.1" width="3.1999999999999886" height="14.699999999999989" fill="#999"/>
<rect x="258.0" y="294.1" width="2.8000000000000114" height="14.699999999999989" fill="#aaa"/>
<rect x="261.3" y="294.1" width="1.6999999999999886" height="14.699999999999989" fill="#ccc"/>
<rect x="263.1" y="294.1" width="1.099999999999966" height="14.699999999999989" fill="#999"/>
<rect x="266.0" y="294.1" width="1.0" height="14.699999999999989" fill="#bbb"/>
<rect x="268.7" y="294.1" width="1.6999999999999886" height="14.699999999999989" fill="#999"/>
<rect x="283.2" y="294.1" width="1.1000000000000227" height="14.699999999999989" fill="#ccc"/>
<rect x="284.9" y="294.1" width="1.1000000000000227" height="14.699999999999989" fill="#aaa"/>
<rect x="287.0" y="294.1" width="1.8000000000000114" height="14.699999999999989" fill="#aaa"/>
<rect x="290.4" y="294.1" width="3.900000000000034" height="14.699999999999989" fill="#777"/>
<rect x="294.5" y="294.1" width="2.0" height="14.699999999999989" fill="#ccc"/>
<rect x="297.1" y="294.1" width="1.6999999999999886" height="14.699999999999989" fill="#555"/>
<rect x="299.5" y="294.1" width="1.5" height="14.699999999999989" fill="#999"/>
<rect x="302.2" y="294.1" width="1.6000000000000227" height="14.699999999999989" fill="#666"/>
<rect x="304.3" y="294.1" width="2.099999999999966" height="14.699999999999989" fill="#999"/>
<rect x="306.6" y="294.1" width="2.3999999999999773" height="14.699999999999989" fill="#666"/>
<rect x="309.0" y="294.1" width="1.5" height="14.699999999999989" fill="#888"/>
<rect x="310.5" y="294.1" width="1.6999999999999886" height="14.699999999999989" fill="#666"/>
<rect x="312.7" y="294.1" width="1.6999999999999886" height="14.699999999999989" fill="#bbb"/>
<rect x="315.5" y="294.1" width="1.6999999999999886" height="14.699999999999989" fill="#555"/>
<rect x="212.4" y="309.0" width="23.984799999999996" height="3.8000000000000114" fill="#fa2a40"/>
<rect x="236.0848" y="309.0" width="7.007199999999996" height="3.8000000000000114" fill="#f84c78"/>
<rect x="242.792" y="309.0" width="7.740799999999999" height="3.8000000000000114" fill="#fa6a76"/>
<rect x="250.2328" y="309.0" width="30.2728" height="3.8000000000000114" fill="#f8aee0"/>
<rect x="280.2056" y="309.0" width="18.43039999999999" height="3.8000000000000114" fill="#c6c6fa"/>
<rect x="298.336" y="309.0" width="3.758400000000002" height="3.8000000000000114" fill="#beb4fa"/>
<rect x="301.7944" y="309.0" width="3.653600000000002" height="3.8000000000000114" fill="#8482f8"/>
<rect x="305.148" y="309.0" width="10.255999999999997" height="3.8000000000000114" fill="#6448f0"/>
<rect x="315.104" y="309.0" width="2.3960000000000012" height="3.8000000000000114" fill="#2c0cd0"/>
<path d="M212.4,328.4 L212.40,322.70 L214.15,324.45 L215.89,325.50 L217.64,326.16 L219.39,326.59 L221.13,326.89 L222.88,327.11 L224.63,327.27 L226.37,327.41 L228.12,327.52 L229.87,327.61 L231.61,327.69 L233.36,327.77 L235.11,327.83 L236.85,327.89 L238.60,327.94 L240.35,327.99 L242.09,328.03 L243.84,328.07 L245.59,328.10 L247.33,328.13 L249.08,328.16 L250.83,328.19 L252.57,328.21 L254.32,328.23 L256.07,328.26 L257.81,328.27 L259.56,328.29 L261.31,328.31 L263.05,328.32 L264.80,328.34 L266.55,328.41 L268.29,328.42 L270.04,328.43 L271.79,328.44 L273.53,328.45 L275.28,328.47 L277.03,328.48 L278.77,328.49 L280.52,328.50 L282.27,328.52 L284.01,328.53 L285.76,328.55 L287.51,328.57 L289.25,328.59 L291.00,328.62 L292.75,328.65 L294.49,328.68 L296.24,328.72 L297.99,328.77 L299.73,328.83 L301.48,328.90 L303.23,328.99 L304.97,329.10 L306.72,329.24 L308.47,329.43 L310.21,329.69 L311.96,330.13 L313.71,331.00 L315.45,333.15 L317.20,339.23 L317.2,328.4 Z" fill="#d2d2d2" stroke="#bdbdbd" stroke-width="0.4"/>
<line x1="212.4" y1="328.4" x2="317.2" y2="328.4" stroke="#9a9a9a" stroke-width="0.5"/>
<rect x="250.128" y="326.79999999999995" width="29.343999999999998" height="3.2" fill="#fff"/>
<text x="264.8" y="329.4" font-size="2.9" fill="#666" stroke="#666" stroke-width="0.12" text-anchor="middle">Zero cross at 8958</text>
<text x="214.20000000000002" y="318.8" font-size="6.4" fill="#e0303c" stroke="#e0303c" stroke-width="0.05">P5</text>
<text x="311.2" y="342.8" font-size="6.45" fill="#3a2f9a" stroke="#3a2f9a" stroke-width="0.05" text-anchor="end">4 weeks</text>
<path d="M212.40,255.50 L213.20,254.20 L214.60,257.70 L216.00,255.00 L216.70,252.00 L218.50,251.50 L219.50,250.00 L221.40,248.50 L223.00,249.60 L224.50,249.00 L226.20,251.70 L228.00,250.60 L229.50,251.40 L231.00,250.60 L234.00,250.30 L236.00,251.20 L242.70,253.20 L249.60,255.80 L255.00,259.20 L265.40,266.80 L280.80,280.30 L290.00,286.90 L296.20,289.50 L300.00,290.20 L303.00,290.80 L306.00,290.40 L308.50,289.20 L310.20,287.40 L311.50,285.40 L313.50,284.40 L314.60,283.80 L316.00,281.80 L316.60,280.50 L317.20,263.10" fill="none" stroke="#2cf02c" stroke-width="1.15" stroke-linejoin="round"/>
<text x="277.2" y="253.8" font-size="6.7" fill="#222" stroke="#222" stroke-width="0.03">NES = -1.2</text>
<text x="277.2" y="261.6" font-size="6.7" fill="#222" stroke="#222" stroke-width="0.03">p = 0.11</text>
<text x="277.2" y="269.4" font-size="6.7" fill="#222" stroke="#222" stroke-width="0.03">q = 0.36</text>
<rect x="212.4" y="247.0" width="109.1" height="97.0" fill="none" stroke="#808080" stroke-width="1.1"/>
<text x="209.20000000000002" y="250.7" font-size="6.4" fill="#222" stroke="#222" stroke-width="0.12" text-anchor="end">0.2</text>
<text x="209.20000000000002" y="258.5" font-size="6.4" fill="#222" stroke="#222" stroke-width="0.12" text-anchor="end">0.1</text>
<text x="209.20000000000002" y="266.4" font-size="6.4" fill="#222" stroke="#222" stroke-width="0.12" text-anchor="end">0.0</text>
<text x="209.20000000000002" y="274.4" font-size="6.4" fill="#222" stroke="#222" stroke-width="0.12" text-anchor="end">-0.1</text>
<text x="209.20000000000002" y="282.4" font-size="6.4" fill="#222" stroke="#222" stroke-width="0.12" text-anchor="end">-0.2</text>
<text x="209.20000000000002" y="290.2" font-size="6.4" fill="#222" stroke="#222" stroke-width="0.12" text-anchor="end">-0.3</text>
<text transform="translate(207.8 314.54) rotate(-90)" font-size="5.4" fill="#333" text-anchor="middle">3</text>
<text transform="translate(207.8 319.16) rotate(-90)" font-size="5.4" fill="#333" text-anchor="middle">2</text>
<text transform="translate(207.8 323.78) rotate(-90)" font-size="5.4" fill="#333" text-anchor="middle">1</text>
<text transform="translate(207.8 328.40) rotate(-90)" font-size="5.4" fill="#333" text-anchor="middle">0</text>
<text transform="translate(207.8 333.02) rotate(-90)" font-size="5.4" fill="#333" text-anchor="middle">-1</text>
<text transform="translate(207.8 337.64) rotate(-90)" font-size="5.4" fill="#333" text-anchor="middle">-2</text>
<text transform="translate(207.8 342.26) rotate(-90)" font-size="5.4" fill="#333" text-anchor="middle">-3</text>
<text transform="translate(182.39999999999998 292.2) rotate(-90)" font-size="8.6" fill="#222" stroke="#222" stroke-width="0.15" textLength="46.3" lengthAdjust="spacingAndGlyphs">Enrichment score</text>
<text transform="translate(193.7 275.6) rotate(-90)" font-size="9.2" fill="#222" stroke="#222" stroke-width="0.15" textLength="12" lengthAdjust="spacingAndGlyphs">(ES)</text>
<text transform="translate(187.4 353.4) rotate(-90)" font-size="8.6" fill="#222" stroke="#222" stroke-width="0.12" textLength="48.8" lengthAdjust="spacingAndGlyphs">Ranked list metric</text>
<text transform="translate(198.6 347.2) rotate(-90)" font-size="8.6" fill="#222" stroke="#222" stroke-width="0.12" textLength="36.8" lengthAdjust="spacingAndGlyphs">(signal2noise)</text>
<text x="421.0" y="231.4" font-size="9.8" fill="#222" stroke="#222" stroke-width="0.04" text-anchor="middle" textLength="96.0" lengthAdjust="spacingAndGlyphs">NEGATIVE RETULATION</text>
<text x="421.0" y="241.7" font-size="9.8" fill="#222" stroke="#222" stroke-width="0.04" text-anchor="middle" textLength="67.7" lengthAdjust="spacingAndGlyphs">OF AUTOPHAGY</text>
<rect x="366.3" y="247.0" width="109.89999999999998" height="97.0" fill="#fff"/>
<line x1="378.8" y1="247.0" x2="378.8" y2="293.6" stroke="#f0f0f0" stroke-width="0.6"/>
<line x1="378.8" y1="312.8" x2="378.8" y2="344.0" stroke="#f0f0f0" stroke-width="0.6"/>
<line x1="391.2" y1="247.0" x2="391.2" y2="293.6" stroke="#f0f0f0" stroke-width="0.6"/>
<line x1="391.2" y1="312.8" x2="391.2" y2="344.0" stroke="#f0f0f0" stroke-width="0.6"/>
<line x1="403.59999999999997" y1="247.0" x2="403.59999999999997" y2="293.6" stroke="#f0f0f0" stroke-width="0.6"/>
<line x1="403.59999999999997" y1="312.8" x2="403.59999999999997" y2="344.0" stroke="#f0f0f0" stroke-width="0.6"/>
<line x1="415.99999999999994" y1="247.0" x2="415.99999999999994" y2="293.6" stroke="#f0f0f0" stroke-width="0.6"/>
<line x1="415.99999999999994" y1="312.8" x2="415.99999999999994" y2="344.0" stroke="#f0f0f0" stroke-width="0.6"/>
<line x1="428.3999999999999" y1="247.0" x2="428.3999999999999" y2="293.6" stroke="#f0f0f0" stroke-width="0.6"/>
<line x1="428.3999999999999" y1="312.8" x2="428.3999999999999" y2="344.0" stroke="#f0f0f0" stroke-width="0.6"/>
<line x1="440.7999999999999" y1="247.0" x2="440.7999999999999" y2="293.6" stroke="#f0f0f0" stroke-width="0.6"/>
<line x1="440.7999999999999" y1="312.8" x2="440.7999999999999" y2="344.0" stroke="#f0f0f0" stroke-width="0.6"/>
<line x1="453.1999999999999" y1="247.0" x2="453.1999999999999" y2="293.6" stroke="#f0f0f0" stroke-width="0.6"/>
<line x1="453.1999999999999" y1="312.8" x2="453.1999999999999" y2="344.0" stroke="#f0f0f0" stroke-width="0.6"/>
<line x1="465.59999999999985" y1="247.0" x2="465.59999999999985" y2="293.6" stroke="#f0f0f0" stroke-width="0.6"/>
<line x1="465.59999999999985" y1="312.8" x2="465.59999999999985" y2="344.0" stroke="#f0f0f0" stroke-width="0.6"/>
<line x1="366.3" y1="251.7" x2="471.5" y2="251.7" stroke="#f0f0f0" stroke-width="0.6"/>
<line x1="366.3" y1="259.4" x2="471.5" y2="259.4" stroke="#f0f0f0" stroke-width="0.6"/>
<line x1="366.3" y1="267.2" x2="471.5" y2="267.2" stroke="#f0f0f0" stroke-width="0.6"/>
<line x1="366.3" y1="275.4" x2="471.5" y2="275.4" stroke="#f0f0f0" stroke-width="0.6"/>
<line x1="366.3" y1="283.1" x2="471.5" y2="283.1" stroke="#f0f0f0" stroke-width="0.6"/>
<line x1="366.3" y1="290.9" x2="471.5" y2="290.9" stroke="#f0f0f0" stroke-width="0.6"/>
<line x1="366.3" y1="318.6" x2="471.5" y2="318.6" stroke="#f0f0f0" stroke-width="0.6"/>
<line x1="366.3" y1="333.0" x2="471.5" y2="333.0" stroke="#f0f0f0" stroke-width="0.6"/>
<line x1="366.3" y1="337.4" x2="471.5" y2="337.4" stroke="#f0f0f0" stroke-width="0.6"/>
<line x1="366.3" y1="341.4" x2="471.5" y2="341.4" stroke="#f0f0f0" stroke-width="0.6"/>
<line x1="366.3" y1="267.2" x2="471.5" y2="267.2" stroke="#c8c8c8" stroke-width="0.8"/>
<line x1="366.3" y1="293.6" x2="476.2" y2="293.6" stroke="#d0d0d0" stroke-width="0.7"/>
<rect x="368.8" y="294.1" width="1.099999999999966" height="14.699999999999989" fill="#888"/>
<rect x="371.5" y="294.1" width="1.6999999999999886" height="14.699999999999989" fill="#999"/>
<rect x="376.9" y="294.1" width="1.1000000000000227" height="14.699999999999989" fill="#aaa"/>
<rect x="379.1" y="294.1" width="2.099999999999966" height="14.699999999999989" fill="#666"/>
<rect x="381.8" y="294.1" width="3.1999999999999886" height="14.699999999999989" fill="#999"/>
<rect x="386.6" y="294.1" width="1.2999999999999545" height="14.699999999999989" fill="#666"/>
<rect x="394.1" y="294.1" width="1.2999999999999545" height="14.699999999999989" fill="#999"/>
<rect x="396.3" y="294.1" width="1.099999999999966" height="14.699999999999989" fill="#bbb"/>
<rect x="399.5" y="294.1" width="2.6999999999999886" height="14.699999999999989" fill="#888"/>
<rect x="404.4" y="294.1" width="1.0" height="14.699999999999989" fill="#ccc"/>
<rect x="410.3" y="294.1" width="1.099999999999966" height="14.699999999999989" fill="#999"/>
<rect x="413.0" y="294.1" width="1.0" height="14.699999999999989" fill="#ccc"/>
<rect x="418.4" y="294.1" width="1.0" height="14.699999999999989" fill="#aaa"/>
<rect x="418.6" y="294.1" width="1.599999999999966" height="14.699999999999989" fill="#999"/>
<rect x="421.9" y="294.1" width="1.7000000000000455" height="14.699999999999989" fill="#aaa"/>
<rect x="428.0" y="294.1" width="1.1000000000000227" height="14.699999999999989" fill="#999"/>
<rect x="439.7" y="294.1" width="1.6999999999999886" height="14.699999999999989" fill="#ccc"/>
<rect x="443.1" y="294.1" width="1.099999999999966" height="14.699999999999989" fill="#bbb"/>
<rect x="444.8" y="294.1" width="1.099999999999966" height="14.699999999999989" fill="#aaa"/>
<rect x="447.0" y="294.1" width="1.6999999999999886" height="14.699999999999989" fill="#999"/>
<rect x="449.8" y="294.1" width="1.099999999999966" height="14.699999999999989" fill="#ccc"/>
<rect x="452.0" y="294.1" width="2.8000000000000114" height="14.699999999999989" fill="#666"/>
<rect x="455.9" y="294.1" width="3.3000000000000114" height="14.699999999999989" fill="#aaa"/>
<rect x="459.8" y="294.1" width="3.8999999999999773" height="14.699999999999989" fill="#999"/>
<rect x="464.8" y="294.1" width="1.6999999999999886" height="14.699999999999989" fill="#bbb"/>
<rect x="467.6" y="294.1" width="2.1999999999999886" height="14.699999999999989" fill="#999"/>
<rect x="470.4" y="294.1" width="1.1000000000000227" height="14.699999999999989" fill="#ccc"/>
<rect x="366.3" y="309.0" width="24.0752" height="3.8000000000000114" fill="#fa2a40"/>
<rect x="390.0752" y="309.0" width="7.032799999999996" height="3.8000000000000114" fill="#f84c78"/>
<rect x="396.808" y="309.0" width="7.7692" height="3.8000000000000114" fill="#fa6a76"/>
<rect x="404.2772" y="309.0" width="30.3872" height="3.8000000000000114" fill="#f8aee0"/>
<rect x="434.3644" y="309.0" width="18.49959999999999" height="3.8000000000000114" fill="#c6c6fa"/>
<rect x="452.56399999999996" y="309.0" width="3.7716000000000025" height="3.8000000000000114" fill="#beb4fa"/>
<rect x="456.0356" y="309.0" width="3.6664000000000025" height="3.8000000000000114" fill="#8482f8"/>
<rect x="459.402" y="309.0" width="10.293999999999997" height="3.8000000000000114" fill="#6448f0"/>
<rect x="469.396" y="309.0" width="2.4040000000000012" height="3.8000000000000114" fill="#2c0cd0"/>
<path d="M366.3,328.4 L366.30,322.70 L368.05,324.45 L369.81,325.50 L371.56,326.16 L373.31,326.59 L375.07,326.89 L376.82,327.11 L378.57,327.27 L380.33,327.41 L382.08,327.52 L383.83,327.61 L385.59,327.69 L387.34,327.77 L389.09,327.83 L390.85,327.89 L392.60,327.94 L394.35,327.99 L396.11,328.03 L397.86,328.07 L399.61,328.10 L401.37,328.13 L403.12,328.16 L404.87,328.19 L406.63,328.21 L408.38,328.23 L410.13,328.26 L411.89,328.27 L413.64,328.29 L415.39,328.31 L417.15,328.32 L418.90,328.34 L420.65,328.41 L422.41,328.42 L424.16,328.43 L425.91,328.44 L427.67,328.45 L429.42,328.47 L431.17,328.48 L432.93,328.49 L434.68,328.50 L436.43,328.52 L438.19,328.53 L439.94,328.55 L441.69,328.57 L443.45,328.59 L445.20,328.62 L446.95,328.65 L448.71,328.68 L450.46,328.72 L452.21,328.77 L453.97,328.83 L455.72,328.90 L457.47,328.99 L459.23,329.10 L460.98,329.24 L462.73,329.43 L464.49,329.69 L466.24,330.13 L467.99,331.00 L469.75,333.15 L471.50,339.23 L471.5,328.4 Z" fill="#d2d2d2" stroke="#bdbdbd" stroke-width="0.4"/>
<line x1="366.3" y1="328.4" x2="471.5" y2="328.4" stroke="#9a9a9a" stroke-width="0.5"/>
<rect x="404.172" y="326.79999999999995" width="29.456" height="3.2" fill="#fff"/>
<text x="418.9" y="329.4" font-size="2.9" fill="#666" stroke="#666" stroke-width="0.12" text-anchor="middle">Zero cross at 8958</text>
<text x="368.1" y="318.8" font-size="6.4" fill="#e0303c" stroke="#e0303c" stroke-width="0.05">P5</text>
<text x="465.5" y="342.8" font-size="6.45" fill="#3a2f9a" stroke="#3a2f9a" stroke-width="0.05" text-anchor="end">4 weeks</text>
<path d="M366.30,267.20 L368.90,269.30 L370.10,262.40 L372.00,263.40 L374.10,257.70 L376.70,260.70 L378.40,256.70 L381.00,252.00 L383.00,252.60 L385.40,250.30 L387.00,251.00 L388.00,249.40 L390.00,250.20 L392.30,252.00 L395.70,253.40 L401.00,255.50 L410.00,261.00 L425.40,272.30 L440.80,284.60 L452.30,291.10 L454.60,288.90 L457.70,289.20 L460.50,286.50 L463.10,282.80 L466.20,280.80 L468.50,281.20 L470.00,273.10 L471.20,273.80 L471.50,266.90" fill="none" stroke="#2cf02c" stroke-width="1.15" stroke-linejoin="round"/>
<text x="431.5" y="253.8" font-size="6.7" fill="#222" stroke="#222" stroke-width="0.03">NES = -0.94</text>
<text x="431.5" y="261.6" font-size="6.7" fill="#222" stroke="#222" stroke-width="0.03">p = 0.52</text>
<text x="431.5" y="269.4" font-size="6.7" fill="#222" stroke="#222" stroke-width="0.03">q = 0.55</text>
<rect x="366.3" y="247.0" width="109.89999999999998" height="97.0" fill="none" stroke="#808080" stroke-width="1.1"/>
<text x="363.1" y="253.89999999999998" font-size="6.4" fill="#222" stroke="#222" stroke-width="0.12" text-anchor="end">0.2</text>
<text x="363.1" y="261.59999999999997" font-size="6.4" fill="#222" stroke="#222" stroke-width="0.12" text-anchor="end">0.1</text>
<text x="363.1" y="269.4" font-size="6.4" fill="#222" stroke="#222" stroke-width="0.12" text-anchor="end">0.0</text>
<text x="363.1" y="277.59999999999997" font-size="6.4" fill="#222" stroke="#222" stroke-width="0.12" text-anchor="end">-0.1</text>
<text x="363.1" y="285.3" font-size="6.4" fill="#222" stroke="#222" stroke-width="0.12" text-anchor="end">-0.2</text>
<text x="363.1" y="293.09999999999997" font-size="6.4" fill="#222" stroke="#222" stroke-width="0.12" text-anchor="end">-0.3</text>
<text transform="translate(361.7 314.54) rotate(-90)" font-size="5.4" fill="#333" text-anchor="middle">3</text>
<text transform="translate(361.7 319.16) rotate(-90)" font-size="5.4" fill="#333" text-anchor="middle">2</text>
<text transform="translate(361.7 323.78) rotate(-90)" font-size="5.4" fill="#333" text-anchor="middle">1</text>
<text transform="translate(361.7 328.40) rotate(-90)" font-size="5.4" fill="#333" text-anchor="middle">0</text>
<text transform="translate(361.7 333.02) rotate(-90)" font-size="5.4" fill="#333" text-anchor="middle">-1</text>
<text transform="translate(361.7 337.64) rotate(-90)" font-size="5.4" fill="#333" text-anchor="middle">-2</text>
<text transform="translate(361.7 342.26) rotate(-90)" font-size="5.4" fill="#333" text-anchor="middle">-3</text>
<text transform="translate(337.09999999999997 294.5) rotate(-90)" font-size="8.6" fill="#222" stroke="#222" stroke-width="0.15" textLength="46.3" lengthAdjust="spacingAndGlyphs">Enrichment score</text>
<text transform="translate(348.4 278.4) rotate(-90)" font-size="9.2" fill="#222" stroke="#222" stroke-width="0.15" textLength="12" lengthAdjust="spacingAndGlyphs">(ES)</text>
<text transform="translate(341.3 353.4) rotate(-90)" font-size="8.6" fill="#222" stroke="#222" stroke-width="0.12" textLength="48.8" lengthAdjust="spacingAndGlyphs">Ranked list metric</text>
<text transform="translate(352.5 347.2) rotate(-90)" font-size="8.6" fill="#222" stroke="#222" stroke-width="0.12" textLength="36.8" lengthAdjust="spacingAndGlyphs">(signal2noise)</text>
<line x1="52.3" y1="384.0" x2="52.3" y2="466.4" stroke="#333" stroke-width="1.3"/>
<line x1="51.699999999999996" y1="465.7" x2="95.8" y2="465.7" stroke="#333" stroke-width="1.3"/>
<line x1="49.5" y1="386.1" x2="52.3" y2="386.1" stroke="#333" stroke-width="1"/>
<text x="46.699999999999996" y="389.20000000000005" font-size="8.8" fill="#2a2a2a" stroke="#2a2a2a" stroke-width="0.1" text-anchor="end">3.5</text>
<line x1="49.5" y1="397.4" x2="52.3" y2="397.4" stroke="#333" stroke-width="1"/>
<text x="46.699999999999996" y="400.5" font-size="8.8" fill="#2a2a2a" stroke="#2a2a2a" stroke-width="0.1" text-anchor="end">3</text>
<line x1="49.5" y1="408.8" x2="52.3" y2="408.8" stroke="#333" stroke-width="1"/>
<text x="46.699999999999996" y="411.90000000000003" font-size="8.8" fill="#2a2a2a" stroke="#2a2a2a" stroke-width="0.1" text-anchor="end">2.5</text>
<line x1="49.5" y1="420.2" x2="52.3" y2="420.2" stroke="#333" stroke-width="1"/>
<text x="46.699999999999996" y="423.3" font-size="8.8" fill="#2a2a2a" stroke="#2a2a2a" stroke-width="0.1" text-anchor="end">2</text>
<line x1="49.5" y1="431.6" x2="52.3" y2="431.6" stroke="#333" stroke-width="1"/>
<text x="46.699999999999996" y="434.70000000000005" font-size="8.8" fill="#2a2a2a" stroke="#2a2a2a" stroke-width="0.1" text-anchor="end">1.5</text>
<line x1="49.5" y1="443.0" x2="52.3" y2="443.0" stroke="#333" stroke-width="1"/>
<text x="46.699999999999996" y="446.1" font-size="8.8" fill="#2a2a2a" stroke="#2a2a2a" stroke-width="0.1" text-anchor="end">1</text>
<line x1="49.5" y1="454.4" x2="52.3" y2="454.4" stroke="#333" stroke-width="1"/>
<text x="46.699999999999996" y="457.5" font-size="8.8" fill="#2a2a2a" stroke="#2a2a2a" stroke-width="0.1" text-anchor="end">0.5</text>
<line x1="49.5" y1="465.7" x2="52.3" y2="465.7" stroke="#333" stroke-width="1"/>
<text x="46.699999999999996" y="468.8" font-size="8.8" fill="#2a2a2a" stroke="#2a2a2a" stroke-width="0.1" text-anchor="end">0</text>
<line x1="52.8" y1="465.7" x2="52.8" y2="468.4" stroke="#333" stroke-width="1"/>
<line x1="71.9" y1="465.7" x2="71.9" y2="468.4" stroke="#333" stroke-width="1"/>
<line x1="93.0" y1="465.7" x2="93.0" y2="468.4" stroke="#333" stroke-width="1"/>
<rect x="56.7" y="434.0" width="5.6" height="31.69999999999999" fill="#a80e38"/>
<rect x="62.3" y="442.6" width="6.1" height="23.099999999999966" fill="#2c4c88"/>
<rect x="76.3" y="405.4" width="6.5" height="60.30000000000001" fill="#a80e38"/>
<rect x="82.8" y="426.1" width="6.7" height="39.599999999999966" fill="#2c4c88"/>
<line x1="59.5" y1="434.0" x2="59.5" y2="431.4" stroke="#111" stroke-width="1.1"/>
<line x1="57.8" y1="431.4" x2="61.2" y2="431.4" stroke="#111" stroke-width="1.1"/>
<line x1="65.3" y1="442.6" x2="65.3" y2="441.3" stroke="#111" stroke-width="1.1"/>
<line x1="63.599999999999994" y1="441.3" x2="67.0" y2="441.3" stroke="#111" stroke-width="1.1"/>
<line x1="79.5" y1="405.4" x2="79.5" y2="399.6" stroke="#111" stroke-width="1.1"/>
<line x1="77.8" y1="399.6" x2="81.2" y2="399.6" stroke="#111" stroke-width="1.1"/>
<line x1="86.1" y1="426.1" x2="86.1" y2="423.5" stroke="#111" stroke-width="1.1"/>
<line x1="84.39999999999999" y1="423.5" x2="87.8" y2="423.5" stroke="#111" stroke-width="1.1"/>
<line x1="57.9" y1="428.2" x2="67.0" y2="428.2" stroke="#111" stroke-width="1.15"/>
<line x1="79.8" y1="396.7" x2="88.2" y2="396.7" stroke="#111" stroke-width="1.15"/>
<text x="62.6" y="427.4" font-size="6.8" fill="#111" stroke="#111" stroke-width="0.12" text-anchor="middle">*</text>
<text x="83.3" y="395.6" font-size="6.8" fill="#111" stroke="#111" stroke-width="0.12" text-anchor="middle">*</text>
<rect x="99.1" y="385.3" width="5.6" height="5.2" fill="#a80e38"/>
<rect x="99.1" y="396.7" width="5.6" height="5.2" fill="#2c4c88"/>
<text x="107.9" y="390.8" font-size="7.8" fill="#3a3a3a">P5</text>
<text x="107.9" y="402.2" font-size="7.8" fill="#3a3a3a">8 weeks</text>
<text x="67.1" y="475.8" font-size="7.9" fill="#222" stroke="#222" stroke-width="0.12" text-anchor="end" transform="rotate(-45 67.1 475.8)">Control</text>
<text x="86.0" y="474.7" font-size="7.9" fill="#222" stroke="#222" stroke-width="0.12" text-anchor="end" transform="rotate(-45 86.0 474.7)">Chroloquine</text>
<text transform="translate(29.3 464.2) rotate(-90)" font-size="10.4" fill="#222" stroke="#222" stroke-width="0.18" textLength="79.2" lengthAdjust="spacingAndGlyphs">Relative MFI of CYTO-ID 2</text>
<line x1="190.9" y1="381.6" x2="190.9" y2="466.4" stroke="#333" stroke-width="1.3"/>
<line x1="190.3" y1="465.7" x2="238.2" y2="465.7" stroke="#333" stroke-width="1.3"/>
<line x1="188.1" y1="384.4" x2="190.9" y2="384.4" stroke="#333" stroke-width="1"/>
<text x="185.20000000000002" y="387.4" font-size="8.5" fill="#2a2a2a" stroke="#2a2a2a" stroke-width="0.12" text-anchor="end">1.5</text>
<line x1="188.1" y1="411.4" x2="190.9" y2="411.4" stroke="#333" stroke-width="1"/>
<text x="185.20000000000002" y="414.4" font-size="8.5" fill="#2a2a2a" stroke="#2a2a2a" stroke-width="0.12" text-anchor="end">1</text>
<line x1="188.1" y1="438.7" x2="190.9" y2="438.7" stroke="#333" stroke-width="1"/>
<text x="185.20000000000002" y="441.7" font-size="8.5" fill="#2a2a2a" stroke="#2a2a2a" stroke-width="0.12" text-anchor="end">0.5</text>
<line x1="188.1" y1="465.7" x2="190.9" y2="465.7" stroke="#333" stroke-width="1"/>
<text x="185.20000000000002" y="468.7" font-size="8.5" fill="#2a2a2a" stroke="#2a2a2a" stroke-width="0.12" text-anchor="end">0</text>
<line x1="190.9" y1="465.7" x2="190.9" y2="468.4" stroke="#333" stroke-width="1"/>
<line x1="212.5" y1="465.7" x2="212.5" y2="468.4" stroke="#333" stroke-width="1"/>
<line x1="235.2" y1="465.7" x2="235.2" y2="468.4" stroke="#333" stroke-width="1"/>
<rect x="198.4" y="404.2" width="7.4" height="61.5" fill="#a80e38"/>
<rect x="220.7" y="403.3" width="7.0" height="62.39999999999998" fill="#a80e38"/>
<line x1="202.1" y1="404.2" x2="202.1" y2="391.6" stroke="#111" stroke-width="0.9"/>
<line x1="199.9" y1="391.6" x2="204.29999999999998" y2="391.6" stroke="#111" stroke-width="0.9"/>
<line x1="224.2" y1="403.3" x2="224.2" y2="389.2" stroke="#111" stroke-width="0.9"/>
<line x1="222.0" y1="389.2" x2="226.39999999999998" y2="389.2" stroke="#111" stroke-width="0.9"/>
<text x="205.8" y="475.0" font-size="7.9" fill="#222" stroke="#222" stroke-width="0.12" text-anchor="end" transform="rotate(-45 205.8 475.0)">P5</text>
<text x="227.6" y="474.6" font-size="7.9" fill="#222" stroke="#222" stroke-width="0.12" text-anchor="end" transform="rotate(-45 227.6 474.6)">8 weeks</text>
<text transform="translate(167.8 446.0) rotate(-90)" font-size="9.2" fill="#222" stroke="#222" stroke-width="0.12" textLength="45.2" lengthAdjust="spacingAndGlyphs">Autophagy flux</text>
<rect x="0.5" y="0.5" width="519" height="512" fill="none" stroke="#111" stroke-width="1.2"/>
</svg>
</body></html>
